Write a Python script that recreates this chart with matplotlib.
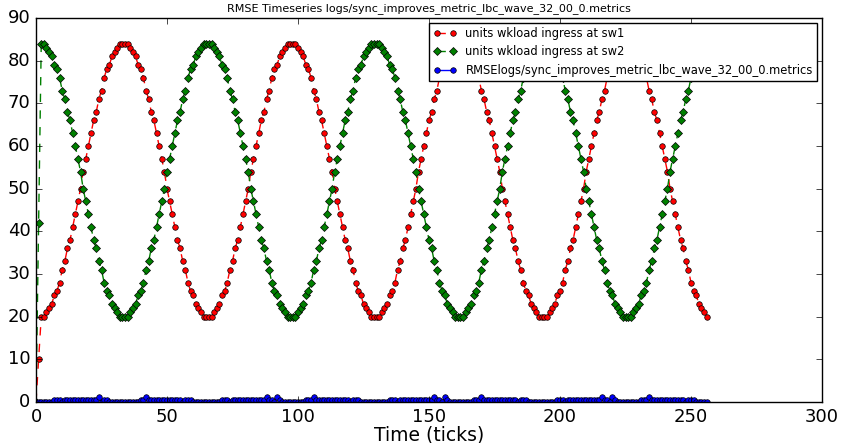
import matplotlib
matplotlib.use('Agg')
import matplotlib.pyplot as plt

# time axis (ticks)
ticks = list(range(257))

# units wkload ingress at sw1
sw1 = [0, 10,
       20, 20, 21, 22, 23, 25, 26, 28, 31, 33, 36, 38, 41, 44, 47, 50, 54, 57, 60, 63, 66, 68, 71, 73, 76, 78, 79, 81, 82, 83, 84, 84,
       84, 84, 83, 82, 81, 79, 78, 76, 73, 71, 68, 66, 63, 60, 57, 54, 50, 47, 44, 41, 38, 36, 33, 31, 28, 26, 25, 23, 22, 21, 20, 20,
       20, 20, 21, 22, 23, 25, 26, 28, 31, 33, 36, 38, 41, 44, 47, 50, 54, 57, 60, 63, 66, 68, 71, 73, 76, 78, 79, 81, 82, 83, 84, 84,
       84, 84, 83, 82, 81, 79, 78, 76, 73, 71, 68, 66, 63, 60, 57, 54, 50, 47, 44, 41, 38, 36, 33, 31, 28, 26, 25, 23, 22, 21, 20, 20,
       20, 20, 21, 22, 23, 25, 26, 28, 31, 33, 36, 38, 41, 44, 47, 50, 54, 57, 60, 63, 66, 68, 71, 73, 76, 78, 79, 81, 82, 83, 84, 84,
       84, 84, 83, 82, 81, 79, 78, 76, 73, 71, 68, 66, 63, 60, 57, 54, 50, 47, 44, 41, 38, 36, 33, 31, 28, 26, 25, 23, 22, 21, 20, 20,
       20, 20, 21, 22, 23, 25, 26, 28, 31, 33, 36, 38, 41, 44, 47, 50, 54, 57, 60, 63, 66, 68, 71, 73, 76, 78, 79, 81, 82, 83, 84, 84,
       84, 84, 83, 82, 81, 79, 78, 76, 73, 71, 68, 66, 63, 60, 57, 54, 50, 47, 44, 41, 38, 36, 33, 31, 28, 26, 25, 23, 22, 21, 20]

# units wkload ingress at sw2
sw2 = [0, 42,
       84, 84, 83, 82, 81, 79, 78, 76, 73, 71, 68, 66, 63, 60, 57, 54, 50, 47, 44, 41, 38, 36, 33, 31, 28, 26, 25, 23, 22, 21, 20, 20,
       20, 20, 21, 22, 23, 25, 26, 28, 31, 33, 36, 38, 41, 44, 47, 50, 54, 57, 60, 63, 66, 68, 71, 73, 76, 78, 79, 81, 82, 83, 84, 84,
       84, 84, 83, 82, 81, 79, 78, 76, 73, 71, 68, 66, 63, 60, 57, 54, 50, 47, 44, 41, 38, 36, 33, 31, 28, 26, 25, 23, 22, 21, 20, 20,
       20, 20, 21, 22, 23, 25, 26, 28, 31, 33, 36, 38, 41, 44, 47, 50, 54, 57, 60, 63, 66, 68, 71, 73, 76, 78, 79, 81, 82, 83, 84, 84,
       84, 84, 83, 82, 81, 79, 78, 76, 73, 71, 68, 66, 63, 60, 57, 54, 50, 47, 44, 41, 38, 36, 33, 31, 28, 26, 25, 23, 22, 21, 20, 20,
       20, 20, 21, 22, 23, 25, 26, 28, 31, 33, 36, 38, 41, 44, 47, 50, 54, 57, 60, 63, 66, 68, 71, 73, 76, 78, 79, 81, 82, 83, 84, 84,
       84, 84, 83, 82, 81, 79, 78, 76, 73, 71, 68, 66, 63, 60, 57, 54, 50, 47, 44, 41, 38, 36, 33, 31, 28, 26, 25, 23, 22, 21, 20, 20,
       20, 20, 21, 22, 23, 25, 26, 28, 31, 33, 36, 38, 41, 44, 47, 50, 54, 57, 60, 63, 66, 68, 71, 73, 76, 78, 79, 81, 82, 83, 84]

# RMSE
rmse = [0, 0, 0, 0, 0, 0, 0, .4, .4, .4, 0, .4, .4, .4, .4, .4,
        .4, .4, .4, .4, .4, .4, .4, .4, 1.2, 0, .4, .4, 0, 0, 0, 0,
        0, 0, 0, 0, 0, 0, 0, 0, .4, .4, 1.2, .4, .4, .4, .4, .4,
        .4, .4, .4, .4, .4, .4, .4, .4, 0, .4, .4, .4, 0, 0, 0, 0,
        0, 0, 0, 0, 0, 0, 0, .4, .4, .4, 0, .4, .4, .4, .4, .4,
        .4, .4, .4, .4, .4, .4, .4, .4, 1.2, .4, .4, 0, 1.2, .4, 0, 0,
        0, 0, 0, 0, 0, 0, 0, .4, .4, .4, 1.2, .4, .4, .4, .4, .4,
        .4, .4, .4, .4, .4, .4, .4, .4, 0, .4, .4, .4, 0, 0, 0, 0,
        0, 0, 0, 0, 0, 0, 0, .4, .4, .4, 0, .4, .4, .4, .4, .4,
        .4, .4, .4, .4, .4, .4, .4, .4, 1.2, .4, .4, 0, 1.2, .4, 0, 0,
        0, 0, 0, 0, 0, 0, 0, .4, .4, .4, 1.2, .4, .4, .4, .4, .4,
        .4, .4, .4, .4, .4, .4, .4, .4, 0, .4, .4, .4, 0, 0, 0, 0,
        0, 0, 0, 0, 0, 0, 0, .4, .4, .4, 0, .4, .4, .4, .4, .4,
        .4, .4, .4, .4, .4, .4, .4, .4, 1.2, .4, .4, 0, 1.2, .4, 0, 0,
        0, 0, 0, 0, 0, 0, 0, .4, .4, .4, 1.2, .4, .4, .4, .4, .4,
        .4, .4, .4, .4, .4, .4, .4, .4, 0, .4, .4, .4, 0, 0, 0, 0,
        0]

name = 'logs/sync_improves_metric_lbc_wave_32_00_0.metrics'

plt.style.use('classic')
fig = plt.figure(figsize=(8.44, 4.43), dpi=100, facecolor='white')
ax = fig.add_axes([36/844, 41/443, 786/844, 384/443])

ax.plot(ticks, sw1, 'r--o', ms=4, mec='k', mew=0.5, lw=1, label='units wkload ingress at sw1')
ax.plot(ticks, sw2, 'g--D', ms=4, mec='k', mew=0.5, lw=1, label='units wkload ingress at sw2')
ax.plot(ticks, rmse, 'b-o', ms=4, mec='k', mew=0.5, lw=1, label='RMSE' + name)

ax.set_xlim(0, 300)
ax.set_ylim(0, 90)
ax.tick_params(labelsize=13)
ax.set_xlabel('Time (ticks)', fontsize=13.5, labelpad=0)
ax.set_title('RMSE Timeseries ' + name, fontsize=8)
ax.legend(loc='upper right', fontsize=8.3, handlelength=2.0, handletextpad=0.8,
          borderaxespad=0.4, labelspacing=0.45)

fig.savefig('out.png', dpi=100, facecolor='white')
